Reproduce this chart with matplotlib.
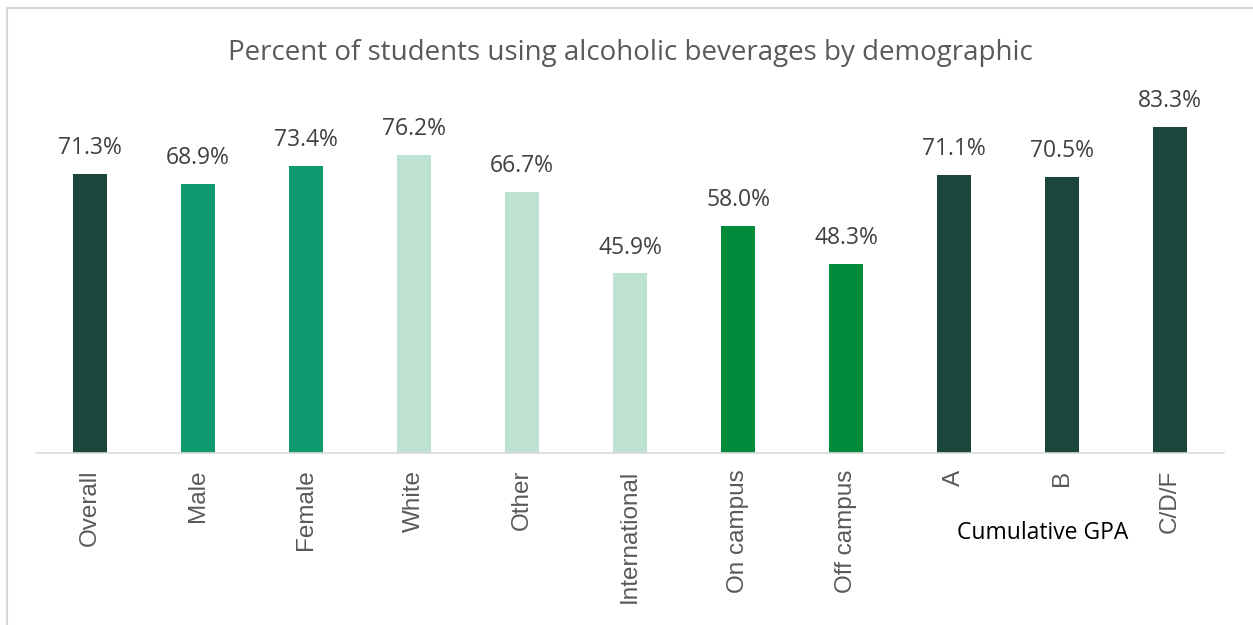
import matplotlib
matplotlib.use("Agg")
import matplotlib.pyplot as plt
from matplotlib.patches import Rectangle

categories = ["Overall", "Male", "Female", "White", "Other", "International",
              "On campus", "Off campus", "A", "B", "C/D/F"]
values = [71.3, 68.9, 73.4, 76.2, 66.7, 45.9, 58.0, 48.3, 71.1, 70.5, 83.3]
groups = ["overall", "gender", "gender", "race", "race", "race",
          "housing", "housing", "gpa", "gpa", "gpa"]

palette = {
    "overall": "#1A463B",
    "gender": "#0E9A6E",
    "race": "#BEE2D2",
    "housing": "#008B3A",
    "gpa": "#1A463B",
}

fig = plt.figure(figsize=(12.53, 6.25), dpi=100)
fig.patches.append(Rectangle((7 / 1253, -0.01), 1.5, 1 - 8 / 625 + 0.01,
                             transform=fig.transFigure, fill=False,
                             edgecolor="#D9D9D9", linewidth=1.5))

ax = fig.add_axes([36 / 1253, 1 - 453 / 625, 1188 / 1253, 352 / 625])
x = range(len(categories))
ax.bar(x, values, width=0.315, color=[palette[g] for g in groups])
ax.set_xlim(-0.5, len(categories) - 0.5)
ax.set_ylim(0, 90)

for xi, v in zip(x, values):
    ax.annotate(f"{v:.1f}%", (xi, v), xytext=(0, 10), textcoords="offset points",
                ha="center", va="bottom", fontsize=16.5, color="#404040",
                family="Open Sans")

ax.set_xticks(list(x))
ax.set_xticklabels(categories, rotation=90, fontsize=17.5, color="#595959",
                   family="Liberation Sans")
ax.tick_params(axis="x", length=0, pad=12)
ax.set_yticks([])
for s in ["top", "right", "left"]:
    ax.spines[s].set_visible(False)
ax.spines["bottom"].set_color("#D9D9D9")
ax.spines["bottom"].set_linewidth(1.2)

fig.text(630 / 1253, 1 - 53 / 625,
         "Percent of students using alcoholic beverages by demographic",
         ha="center", va="center", fontsize=20, color="#595959",
         family="Open Sans")
fig.text(1043 / 1253, 1 - 533 / 625, "Cumulative GPA", ha="center",
         va="center", fontsize=16.5, color="black", family="Open Sans")

fig.savefig("out.png", dpi=100)
